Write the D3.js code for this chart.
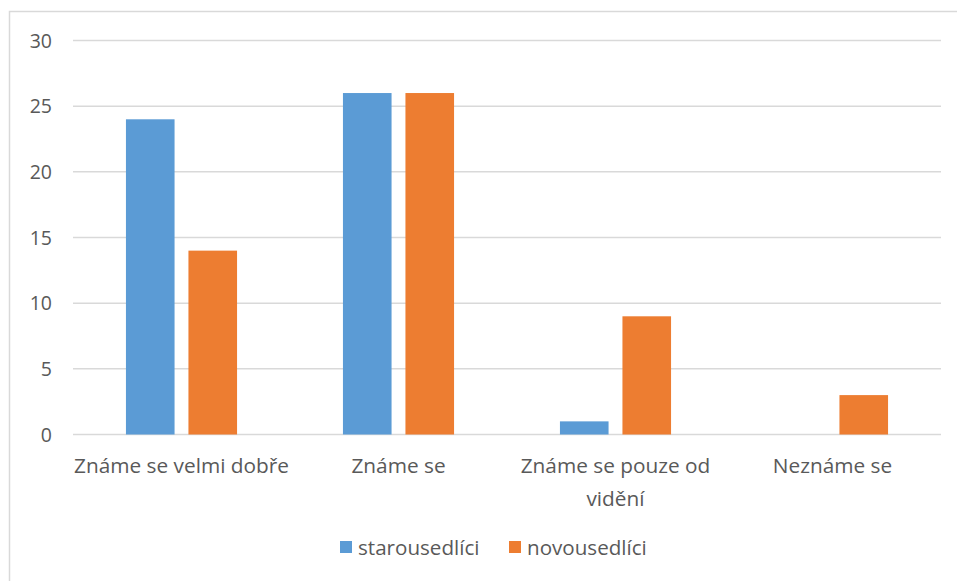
<!DOCTYPE html>
<html><head><meta charset="utf-8">
<script src="https://cdn.jsdelivr.net/npm/d3@7"></script>
<style>body{margin:0;background:#fff;}svg{display:block;}text{font-family:"Open Sans",sans-serif;fill:#595959;}</style>
</head><body><svg id="c" width="957" height="581"></svg>
<script>
const categories = ["Známe se velmi dobře", "Známe se", "Známe se pouze od|vidění", "Neznáme se"];
const seriesNames = ["starousedlíci", "novousedlíci"];
const starousedlici = [24, 26, 1, 0];
const novousedlici = [14, 26, 9, 3];
const yTicks = [0, 5, 10, 15, 20, 25, 30];
const colors = ["#5b9bd5", "#ed7d31"];

const svg = d3.select("#c");
svg.append("rect").attr("x", 9.5).attr("y", 11.5).attr("width", 960).attr("height", 600)
  .attr("fill", "#fff").attr("stroke", "#d9d9d9").attr("stroke-width", 1.5);

const L = 73, R = 941, T = 40.5, B = 434.5;
const x = d3.scaleBand().domain(categories).range([L, R]);
const y = d3.scaleLinear().domain([0, 30]).range([B, T]);
const barW = x.bandwidth() * 0.224, gap = x.bandwidth() * 0.064;

const g = svg.append("g");
g.selectAll("line.grid").data(yTicks).join("line")
  .attr("x1", L).attr("x2", R).attr("y1", d => y(d)).attr("y2", d => y(d))
  .attr("stroke", "#d9d9d9").attr("stroke-width", 1.5);

const yAxis = d3.axisLeft(y).tickValues(yTicks).tickSize(0).tickPadding(0);
const ya = svg.append("g").attr("transform", `translate(52,0)`).call(yAxis);
ya.select(".domain").remove();
ya.selectAll("text").attr("font-size", 19.5).style("fill", "#595959").attr("font-family", "Open Sans").attr("dy", "0.35em");

const series = [starousedlici, novousedlici];
series.forEach((vals, si) => {
  svg.append("g").selectAll("rect").data(categories.map((c, i) => ({c, v: vals[i]}))).join("rect")
    .attr("x", d => x(d.c) + x.bandwidth() / 2 + (si === 0 ? -gap / 2 - barW : gap / 2))
    .attr("width", barW)
    .attr("y", d => y(d.v))
    .attr("height", d => B - y(d.v))
    .attr("fill", colors[si]);
});

const xa = svg.append("g");
categories.forEach(c => {
  const lines = c.split("|");
  const t = xa.append("text").attr("text-anchor", "middle").attr("font-size", 20.8)
    .attr("x", x(c) + x.bandwidth() / 2).attr("y", 473);
  lines.forEach((ln, i) => t.append("tspan").attr("x", x(c) + x.bandwidth() / 2).attr("dy", i === 0 ? 0 : 33).text(ln));
});

const legX = [340, 509];
seriesNames.forEach((n, i) => {
  svg.append("rect").attr("x", legX[i]).attr("y", 541).attr("width", 12).attr("height", 12).attr("fill", colors[i]);
  svg.append("text").attr("x", legX[i] + 18).attr("y", 555).attr("font-size", 20.6).text(n);
});
</script></body></html>
